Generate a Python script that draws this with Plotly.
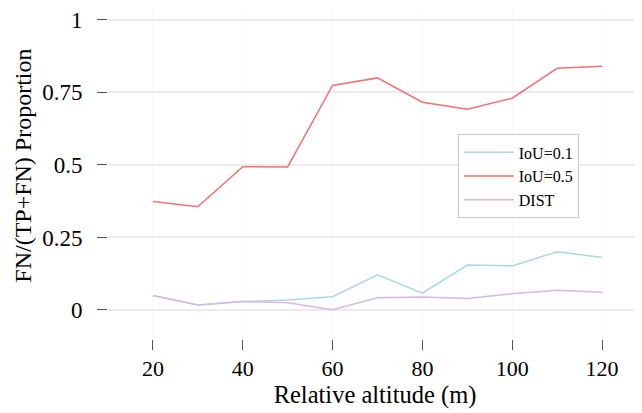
import plotly.graph_objects as go

altitude = [20, 30, 40, 50, 60, 70, 80, 90, 100, 110, 120]
iou_01 = [0.050, 0.017, 0.029, 0.034, 0.046, 0.121, 0.058, 0.155, 0.152, 0.201, 0.181]
iou_05 = [0.374, 0.356, 0.494, 0.493, 0.774, 0.800, 0.716, 0.692, 0.730, 0.833, 0.840]
dist = [0.050, 0.017, 0.029, 0.025, 0.001, 0.042, 0.045, 0.040, 0.056, 0.068, 0.061]
series_names = ["IoU=0.1", "IoU=0.5", "DIST"]
series_colors = ["#a8d8e6", "#f07272", "#d6b8e4"]
y_tickvals = [0, 0.25, 0.5, 0.75, 1]
y_ticktext = ["0", "0.25", "0.5", "0.75", "1"]
x_tickvals = [20, 40, 60, 80, 100, 120]

FONT = "Liberation Serif"

fig = go.Figure()
for name, vals, col in zip(series_names, [iou_01, iou_05, dist], series_colors):
    fig.add_trace(go.Scatter(x=altitude, y=vals, mode="lines", name=name,
                             line=dict(color=col, width=1.5)))

fig.update_layout(
    width=634, height=405,
    margin=dict(l=100, r=0, t=0, b=74),
    paper_bgcolor="white", plot_bgcolor="white",
    font=dict(family=FONT, size=23, color="black"),
    showlegend=True,
    legend=dict(x=0.655, y=0.622, xanchor="left", yanchor="top",
                bordercolor="#cccccc", borderwidth=1, bgcolor="white",
                font=dict(family=FONT, size=16), tracegroupgap=0,
                itemwidth=50, entrywidth=75),
    xaxis=dict(range=[10, 128.9], tickvals=x_tickvals, showgrid=True,
               gridcolor="#f7f7f7", zeroline=False, showline=False,
               ticks="outside", ticklen=10, tickcolor="#555555", tickwidth=1,
               ticklabelstandoff=0, tickfont=dict(size=22),
               title=dict(text="Relative altitude (m)", standoff=5,
                          font=dict(family=FONT, size=24.5))),
    yaxis=dict(range=[-0.1, 1.034], tickvals=y_tickvals, ticktext=y_ticktext,
               showgrid=True, gridcolor="#ebebeb", gridwidth=1.5, zeroline=False,
               showline=False, ticks="outside", ticklen=10, tickcolor="#555555",
               tickwidth=1, ticklabelstandoff=10, ticklabeloverflow="allow"),
    annotations=[dict(text="FN/(TP+FN) Proportion", textangle=-90,
                      xref="paper", yref="paper", x=-0.159, y=0.527,
                      xanchor="center", yanchor="middle", showarrow=False,
                      font=dict(family=FONT, size=24))],
)

fig.write_html("out.html")
